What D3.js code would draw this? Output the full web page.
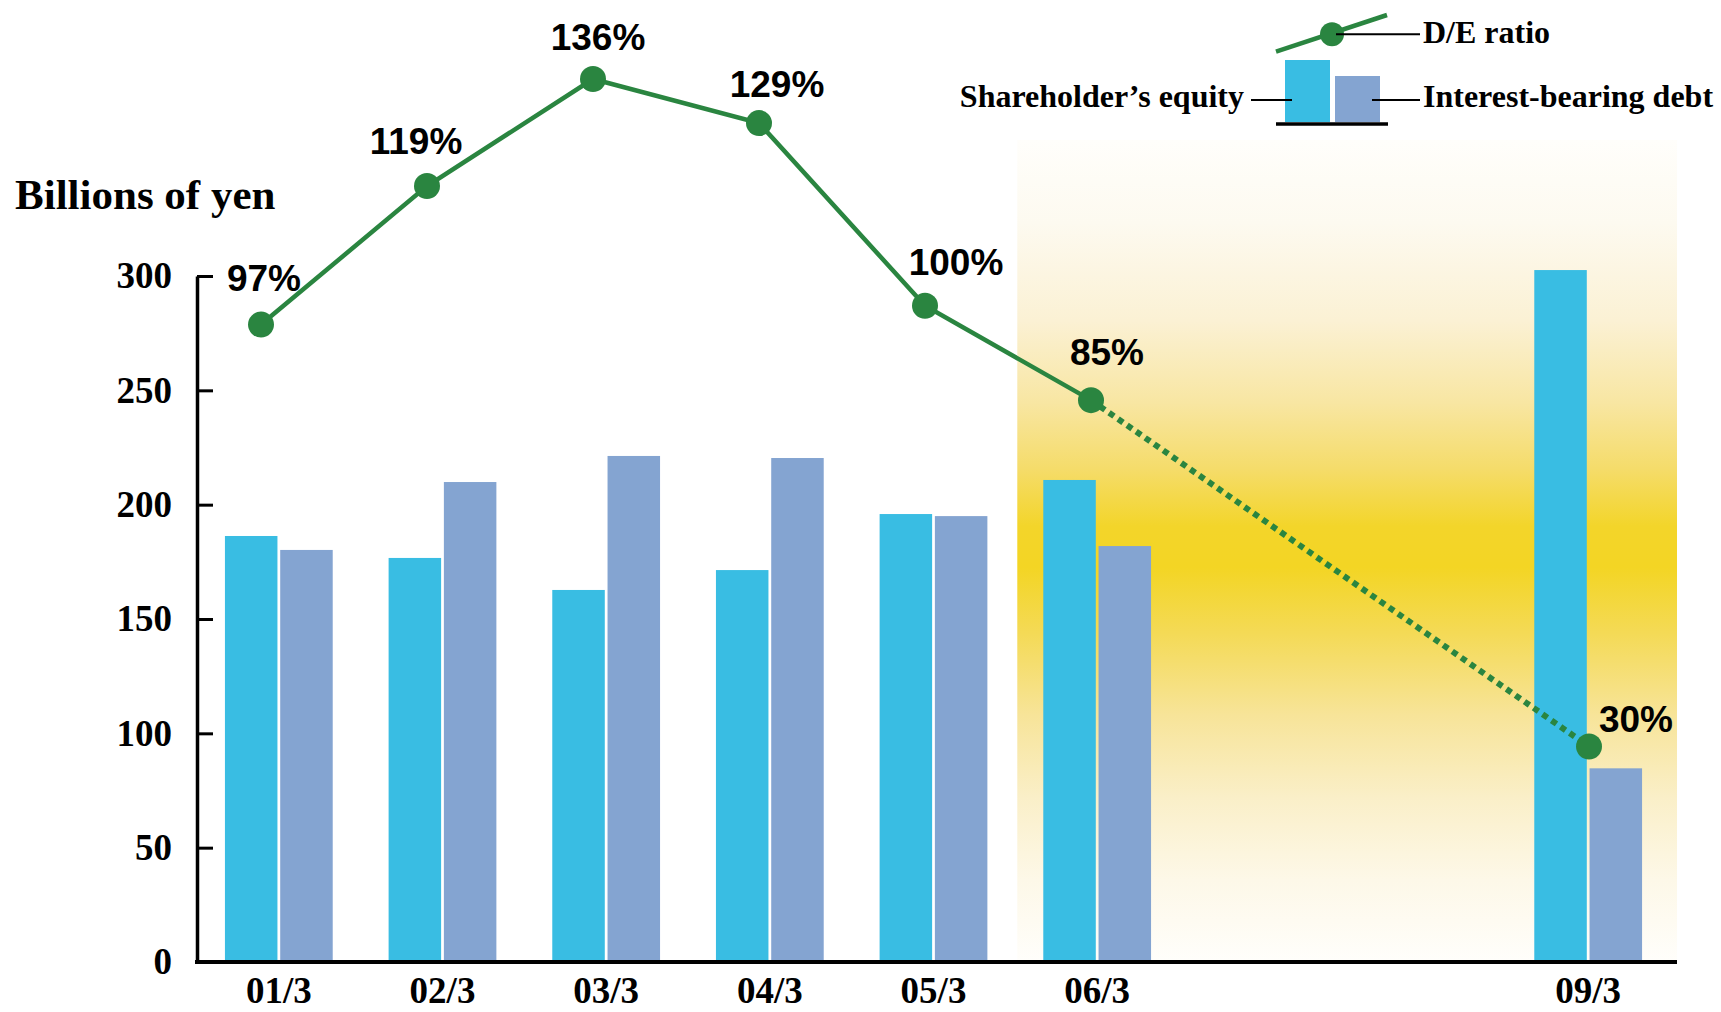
<!DOCTYPE html>
<html>
<head>
<meta charset="utf-8">
<script src="https://cdn.jsdelivr.net/npm/d3@7"></script>
<style>
  html, body { margin: 0; padding: 0; background: #ffffff; }
  svg { display: block; }
</style>
</head>
<body>
<svg id="chart" width="1721" height="1012"></svg>
<script>
// Fiscal years (March year-end); 07/3 and 08/3 are left as empty slots
const years = ["01/3", "02/3", "03/3", "04/3", "05/3", "06/3", "07/3", "08/3", "09/3"];
const yearLabels = ["01/3", "02/3", "03/3", "04/3", "05/3", "06/3", "", "", "09/3"];

// Billions of yen
const equity = [186.3, 176.7, 162.7, 171.4, 195.9, 210.8, null, null, 302.6];
const debt   = [180.2, 209.9, 221.3, 220.4, 195.0, 181.9, null, null, 84.7];

// Debt / equity ratio, %
const deRatio = [97, 119, 136, 129, 100, 85, null, null, 30];

const yTicks = [0, 50, 100, 150, 200, 250, 300];

const COL_EQUITY = "#39bde3";
const COL_DEBT = "#84a4d1";
const COL_LINE = "#2a8540";
const SERIF = "'Liberation Serif', 'Times New Roman', serif";
const SANS = "'Liberation Sans', Arial, sans-serif";

const svg = d3.select("#chart");

// ---- scales ----
const x = d3.scaleBand()
  .domain(years)
  .range([197, 1670])
  .paddingInner(0.3415)
  .paddingOuter(0.1707);

const xInner = d3.scaleBand()
  .domain(["equity", "debt"])
  .range([0, x.bandwidth()])
  .paddingInner(0.05);

const y = d3.scaleLinear().domain([0, 300]).range([962, 276]);

// ratio line has its own horizontal and vertical scale
const lineX = d3.scalePoint().domain(years).range([261, 1589]);
const ratioY = d3.scaleLinear().domain([0, 100]).range([935.4, 305.7]);

// ---- highlighted forecast band (yellow vertical gradient) ----
const defs = svg.append("defs");
const grad = defs.append("linearGradient")
  .attr("id", "bandGrad")
  .attr("x1", 0).attr("y1", 0).attr("x2", 0).attr("y2", 1);
[
  [0.00, "#fffefb"],
  [0.10, "#fdfaf0"],
  [0.22, "#fbf1d4"],
  [0.32, "#f8e6a2"],
  [0.40, "#f5dc6a"],
  [0.47, "#f3d52a"],
  [0.52, "#f3d524"],
  [0.60, "#f4da56"],
  [0.70, "#f7e499"],
  [0.80, "#faefc8"],
  [0.90, "#fdf8e8"],
  [1.00, "#fffefb"]
].forEach(([o, c]) => grad.append("stop").attr("offset", o).attr("stop-color", c));

const bandLeft = x("06/3") - 26;
svg.append("rect")
  .attr("x", bandLeft)
  .attr("y", 140)
  .attr("width", 1677 - bandLeft)
  .attr("height", y(0) - 140)
  .attr("fill", "url(#bandGrad)");

// ---- bars ----
const barData = years.map((yr, i) => ({ yr, equity: equity[i], debt: debt[i] }))
  .filter(d => d.equity != null);

const groups = svg.append("g").selectAll("g")
  .data(barData)
  .join("g")
  .attr("transform", d => `translate(${x(d.yr)},0)`);

groups.selectAll("rect")
  .data(d => [
    { key: "equity", v: d.equity, c: COL_EQUITY },
    { key: "debt", v: d.debt, c: COL_DEBT }
  ])
  .join("rect")
  .attr("x", d => xInner(d.key))
  .attr("width", xInner.bandwidth())
  .attr("y", d => y(d.v))
  .attr("height", d => y(0) - y(d.v))
  .attr("fill", d => d.c);

// ---- axes ----
const yAxis = svg.append("g")
  .attr("transform", "translate(197,0)")
  .call(d3.axisLeft(y).tickValues(yTicks).tickSizeInner(-16).tickSizeOuter(0).tickPadding(25));
yAxis.select(".domain").attr("stroke", "#000").attr("stroke-width", 3.5);
yAxis.selectAll(".tick line").attr("stroke", "#000").attr("stroke-width", 3);
yAxis.selectAll(".tick text")
  .attr("font-family", SERIF).attr("font-weight", "bold").attr("font-size", 37)
  .attr("fill", "#000");

const xAxis = svg.append("g")
  .attr("transform", `translate(0,${y(0)})`)
  .call(d3.axisBottom(x).tickSize(0).tickPadding(15)
    .tickFormat((d, i) => yearLabels[i]));
xAxis.select(".domain").attr("stroke", "#000").attr("stroke-width", 4)
  .attr("d", `M195,0H1677`);
xAxis.selectAll(".tick text")
  .attr("font-family", SERIF).attr("font-weight", "bold").attr("font-size", 37)
  .attr("fill", "#000");

// unit title
svg.append("text")
  .attr("x", 15).attr("y", 209)
  .attr("font-family", SERIF).attr("font-weight", "bold").attr("font-size", 43)
  .text("Billions of yen");

// ---- D/E ratio line ----
const pts = years.map((yr, i) => ({ yr, v: deRatio[i], i })).filter(d => d.v != null);
const actual = pts.filter(d => d.yr <= "06/3");
const projected = pts.filter(d => d.yr >= "06/3");

const line = d3.line().x(d => lineX(d.yr)).y(d => ratioY(d.v));

svg.append("path")
  .attr("d", line(projected))
  .attr("fill", "none")
  .attr("stroke", COL_LINE)
  .attr("stroke-width", 6)
  .attr("stroke-dasharray", "6 5");

svg.append("path")
  .attr("d", line(actual))
  .attr("fill", "none")
  .attr("stroke", COL_LINE)
  .attr("stroke-width", 4.5);

svg.append("g").selectAll("circle")
  .data(pts)
  .join("circle")
  .attr("cx", d => lineX(d.yr))
  .attr("cy", d => ratioY(d.v))
  .attr("r", 13)
  .attr("fill", COL_LINE);

// label placement around each marker
const labelNudge = {
  "01/3": [3, -34], "02/3": [-11, -32], "03/3": [5, -29], "04/3": [18, -26],
  "05/3": [31, -31], "06/3": [16, -35], "09/3": [47, -14]
};
svg.append("g").selectAll("text")
  .data(pts)
  .join("text")
  .attr("x", d => lineX(d.yr) + labelNudge[d.yr][0])
  .attr("y", d => ratioY(d.v) + labelNudge[d.yr][1])
  .attr("text-anchor", "middle")
  .attr("font-family", SANS).attr("font-weight", "bold").attr("font-size", 37)
  .attr("fill", "#000")
  .text(d => d.v + "%");

// ---- legend ----
const lg = svg.append("g");
lg.append("line")
  .attr("x1", 1276).attr("y1", 51.7).attr("x2", 1387).attr("y2", 15)
  .attr("stroke", COL_LINE).attr("stroke-width", 4.5);
lg.append("circle")
  .attr("cx", 1332).attr("cy", 34.3).attr("r", 12).attr("fill", COL_LINE);
lg.append("line")
  .attr("x1", 1336).attr("y1", 34.3).attr("x2", 1420).attr("y2", 34.3)
  .attr("stroke", "#000").attr("stroke-width", 2);
lg.append("rect")
  .attr("x", 1285).attr("y", 60).attr("width", 45).attr("height", 62)
  .attr("fill", COL_EQUITY);
lg.append("rect")
  .attr("x", 1335).attr("y", 76).attr("width", 45).attr("height", 46)
  .attr("fill", COL_DEBT);
lg.append("line")
  .attr("x1", 1276).attr("y1", 124).attr("x2", 1388).attr("y2", 124)
  .attr("stroke", "#000").attr("stroke-width", 3.5);
lg.append("line")
  .attr("x1", 1251).attr("y1", 100).attr("x2", 1292).attr("y2", 100)
  .attr("stroke", "#000").attr("stroke-width", 2);
lg.append("line")
  .attr("x1", 1372).attr("y1", 100).attr("x2", 1420).attr("y2", 100)
  .attr("stroke", "#000").attr("stroke-width", 2);

const legendText = [
  { t: "D/E ratio", x: 1423, y: 43, anchor: "start" },
  { t: "Interest-bearing debt", x: 1423, y: 107, anchor: "start" },
  { t: "Shareholder\u2019s equity", x: 1244, y: 107, anchor: "end" }
];
lg.selectAll("text.lt")
  .data(legendText)
  .join("text")
  .attr("class", "lt")
  .attr("x", d => d.x).attr("y", d => d.y)
  .attr("text-anchor", d => d.anchor)
  .attr("font-family", SERIF).attr("font-weight", "bold").attr("font-size", 32)
  .attr("fill", "#000")
  .text(d => d.t);
</script>
</body>
</html>
